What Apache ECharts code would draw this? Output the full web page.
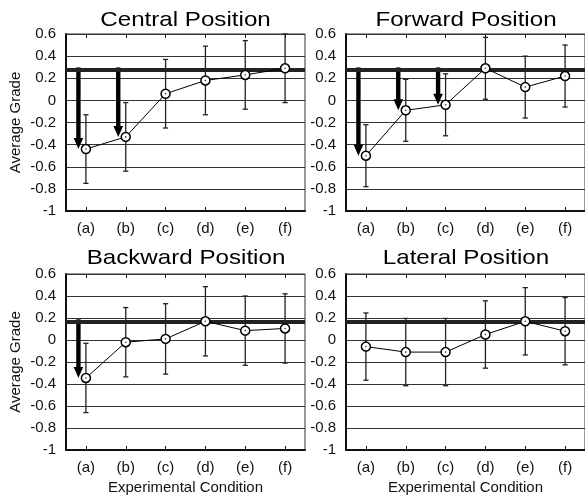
<!DOCTYPE html>
<html>
<head>
<meta charset="utf-8">
<script src="https://cdn.jsdelivr.net/npm/echarts@6/dist/echarts.min.js"></script>
<style>
html,body{margin:0;padding:0;background:#fff;}
#chart{width:585px;height:499px;}
</style>
</head>
<body>
<div id="chart"></div>
<script>
// ---- data ----
const categories = ['(a)', '(b)', '(c)', '(d)', '(e)', '(f)'];
const panelTitles = ['Central Position', 'Forward Position', 'Backward Position', 'Lateral Position'];
const yAxisName = 'Average Grade';
const xAxisName = 'Experimental Condition';
const yMin = -1, yMax = 0.6, yStep = 0.2;

const centralMean = [-0.44, -0.33, 0.06, 0.18, 0.23, 0.29];
const centralErr  = [0.31, 0.31, 0.31, 0.31, 0.31, 0.31];
const forwardMean = [-0.50, -0.09, -0.04, 0.29, 0.12, 0.22];
const forwardErr  = [0.28, 0.28, 0.28, 0.28, 0.28, 0.28];
const backwardMean = [-0.345, -0.02, 0.01, 0.17, 0.085, 0.105];
const backwardErr  = [0.315, 0.315, 0.32, 0.315, 0.315, 0.315];
const lateralMean = [-0.06, -0.11, -0.11, 0.05, 0.17, 0.08];
const lateralErr  = [0.306, 0.306, 0.306, 0.306, 0.306, 0.306];

const referenceLevel = [0.28, 0.28, 0.17, 0.17];
const centralArrows = ['(a)', '(b)'];
const forwardArrows = ['(a)', '(b)', '(c)'];
const backwardArrows = ['(a)'];
const lateralArrows = [];

// ---- assembly ----
const means = [centralMean, forwardMean, backwardMean, lateralMean];
const errs = [centralErr, forwardErr, backwardErr, lateralErr];
const arrows = [centralArrows, forwardArrows, backwardArrows, lateralArrows];

const FONT = 'Liberation Sans, Arial, sans-serif';
const INK = '#111';
const GRIDC = '#333';

const gridPos = [
  {left: 66, top: 34, width: 239, height: 177},
  {left: 346, top: 34, width: 240, height: 177},
  {left: 66, top: 274, width: 239, height: 176},
  {left: 346, top: 274, width: 240, height: 176}
];
const titlePos = [[185.5, 20], [466, 20], [186, 258], [466, 258]];

const grid = [], xAxis = [], yAxis = [], series = [], graphic = [];

function errRender(params, api) {
  const i = api.value(0);
  const pLo = api.coord([i, api.value(1)]);
  const pHi = api.coord([i, api.value(2)]);
  const cap = 2.6;
  const st = {stroke: '#222', lineWidth: 1.3};
  return {type: 'group', children: [
    {type: 'line', shape: {x1: pLo[0], y1: pLo[1], x2: pHi[0], y2: pHi[1]}, style: st},
    {type: 'line', shape: {x1: pLo[0] - cap, y1: pLo[1], x2: pLo[0] + cap, y2: pLo[1]}, style: st},
    {type: 'line', shape: {x1: pHi[0] - cap, y1: pHi[1], x2: pHi[0] + cap, y2: pHi[1]}, style: st}
  ]};
}

function arrowRender(params, api) {
  const i = api.value(0);
  const p0 = api.coord([i, api.value(1)]);
  const p1 = api.coord([i, api.value(2)]);
  const x = p0[0] - 7.5;
  const headLen = 11, headHalf = 4.8, shaftHalf = 2.2;
  const yTop = p0[1] - 2;
  const yHead = p1[1] - headLen;
  return {type: 'group', children: [
    {type: 'rect', shape: {x: x - shaftHalf, y: yTop, width: shaftHalf * 2, height: Math.max(0, yHead - yTop + 0.5)}, style: {fill: '#000'}},
    {type: 'polygon', shape: {points: [[x - headHalf, yHead], [x + headHalf, yHead], [x, p1[1]]]}, style: {fill: '#000'}}
  ]};
}

for (let k = 0; k < 4; k++) {
  const isLeft = (k % 2 === 0);
  const isBottom = (k >= 2);
  grid.push(Object.assign({show: true, borderColor: GRIDC, borderWidth: 1, backgroundColor: 'transparent'}, gridPos[k]));

  yAxis.push({
    type: 'value', gridIndex: k, min: yMin, max: yMax, interval: yStep,
    axisLine: {show: true, lineStyle: {color: INK, width: 2}},
    axisTick: {show: false},
    axisLabel: {show: true, margin: 10, color: INK, fontFamily: FONT, fontSize: 15,
      formatter: v => String(+v.toFixed(1))},
    splitLine: {show: true, lineStyle: {color: GRIDC, width: 1}},
    name: isLeft ? yAxisName : '',
    nameLocation: 'middle', nameGap: 43,
    nameTextStyle: {color: INK, fontFamily: FONT, fontSize: 15}
  });

  const m = means[k], e = errs[k];
  series.push({
    type: 'custom', xAxisIndex: k, yAxisIndex: k, z: 3, silent: true,
    renderItem: errRender,
    data: categories.map((c, i) => [i, m[i] - e[i], m[i] + e[i]])
  });
  series.push({
    type: 'custom', xAxisIndex: k, yAxisIndex: k, z: 4, silent: true,
    renderItem: arrowRender,
    data: arrows[k].map(c => { const i = categories.indexOf(c); return [i, referenceLevel[k], m[i]]; })
  });
  series.push({
    type: 'line', xAxisIndex: k, yAxisIndex: k, z: 5, silent: true,
    data: m,
    symbol: 'circle', symbolSize: 9,
    itemStyle: {color: '#fff', borderColor: '#000', borderWidth: 1.5},
    lineStyle: {color: '#000', width: 1},
    markLine: {
      silent: true, symbol: ['none', 'none'], label: {show: false},
      lineStyle: {color: '#222', width: 4, type: 'solid'},
      data: [{yAxis: referenceLevel[k]}]
    },
    animation: false
  });
  series.push({
    type: 'scatter', xAxisIndex: k, yAxisIndex: k, z: 6, silent: true,
    data: m, symbol: 'circle', symbolSize: 1.6,
    itemStyle: {color: '#000'}
  });

  graphic.push({
    type: 'text', x: titlePos[k][0], y: titlePos[k][1], scaleX: 1.15,
    style: {text: panelTitles[k], fill: '#000', fontSize: 21, fontFamily: FONT, fontWeight: 'normal',
      textAlign: 'center', textVerticalAlign: 'middle'}
  });
}
// bottom category axes (indices 0-3)
for (let k = 0; k < 4; k++) {
  const isBottom = (k >= 2);
  xAxis.push({
    type: 'category', gridIndex: k, data: categories, position: 'bottom',
    axisLine: {show: true, onZero: false, lineStyle: {color: INK, width: 2}},
    axisTick: {show: true, inside: true, alignWithLabel: true, length: 4, lineStyle: {color: INK, width: 1}},
    axisLabel: {show: true, margin: 10, color: INK, fontFamily: FONT, fontSize: 15},
    splitLine: {show: false},
    name: isBottom ? xAxisName : '',
    nameLocation: 'middle', nameGap: 30,
    nameTextStyle: {color: INK, fontFamily: FONT, fontSize: 15}
  });
}
// top category axes (indices 4-7), ticks only
for (let k = 0; k < 4; k++) {
  xAxis.push({
    type: 'category', gridIndex: k, data: categories, position: 'top',
    axisLine: {show: true, onZero: false, lineStyle: {color: GRIDC, width: 1}},
    axisTick: {show: true, inside: true, alignWithLabel: true, length: 4, lineStyle: {color: INK, width: 1}},
    axisLabel: {show: false},
    splitLine: {show: false}
  });
}

const chart = echarts.init(document.getElementById('chart'), null, {renderer: 'canvas'});
chart.setOption({
  animation: false,
  backgroundColor: '#fff',
  grid, xAxis, yAxis, series, graphic
});
</script>
</body>
</html>
